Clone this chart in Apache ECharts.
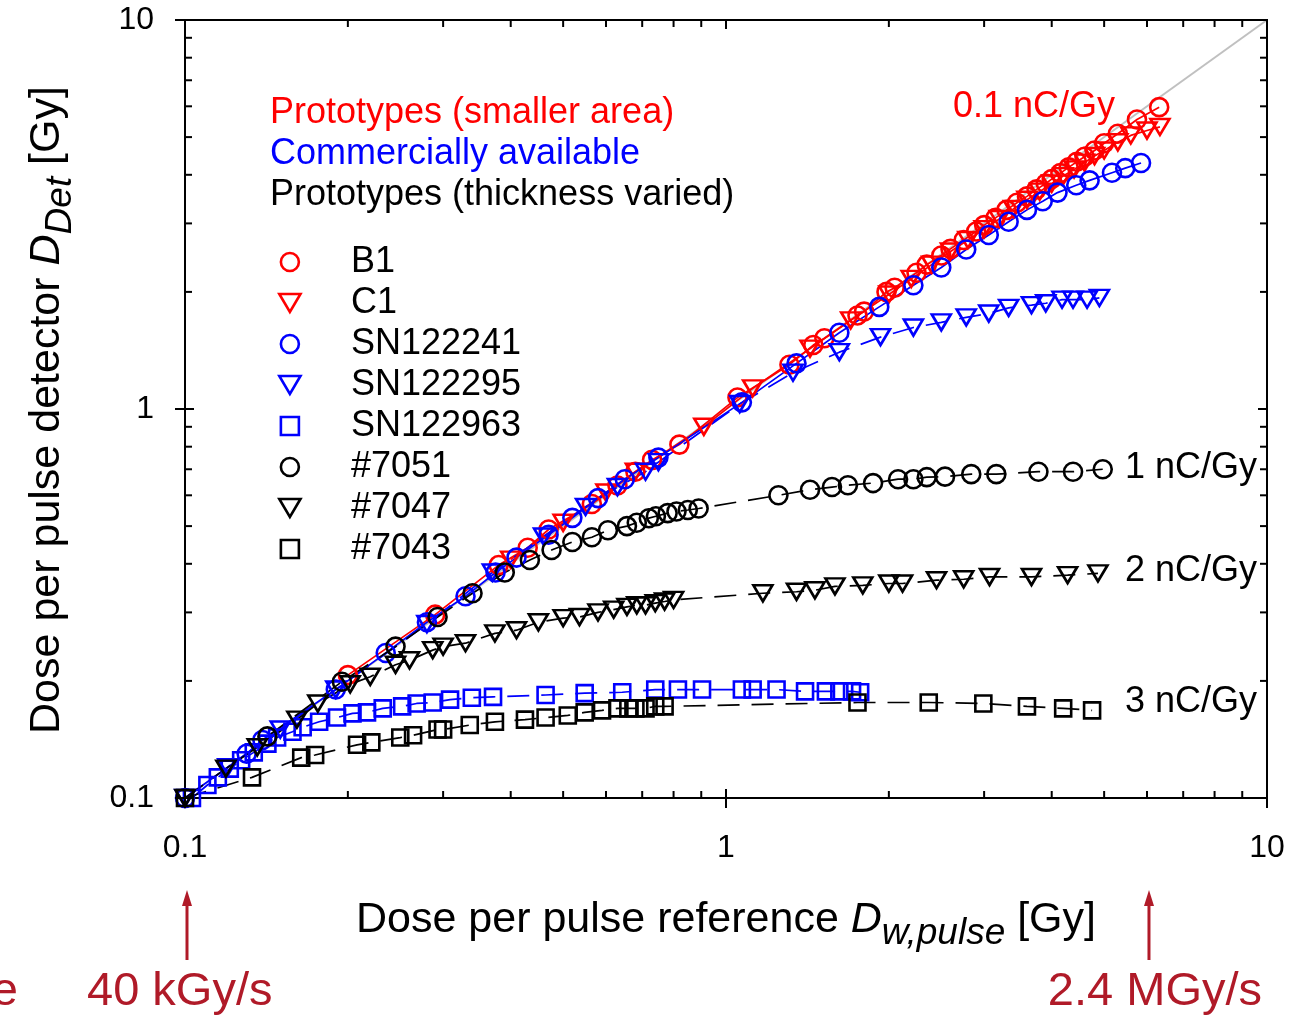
<!DOCTYPE html>
<html><head><meta charset="utf-8">
<script src="https://cdn.jsdelivr.net/npm/echarts/dist/echarts.min.js"></script>
<style>html,body{margin:0;padding:0;background:#fff}#c{width:1301px;height:1016px}</style>
</head><body><div id="c"></div>
<script>
// ---------------- data ----------------
const B1_x = [0.2,0.29,0.38,0.43,0.47,0.565,0.63,0.68,0.73,0.82,1.05,1.31,1.45,1.52,1.75,1.8,1.98,2.05,2.25,2.35,2.5,2.6,2.75,2.9,3.0,3.15,3.3,3.45,3.6,3.75,3.9,4.0,4.15,4.3,4.45,4.6,4.8,5.0,5.3,5.75,6.32];
const B1_y = [0.207,0.296,0.397,0.44,0.49,0.57,0.636,0.69,0.74,0.81,1.07,1.3,1.46,1.52,1.74,1.78,2.0,2.05,2.24,2.35,2.48,2.58,2.72,2.86,2.97,3.1,3.25,3.39,3.52,3.67,3.8,3.9,4.04,4.18,4.32,4.45,4.62,4.82,5.1,5.55,5.97];

const C1_x = [0.4,0.5,0.6,0.68,0.91,1.12,1.43,1.7,2.0,2.2,2.4,2.6,2.8,3.0,3.2,3.4,3.6,3.8,4.0,4.2,4.4,4.6,4.8,5.0,5.3,5.6,6.0,6.34];
const C1_y = [0.41,0.51,0.61,0.69,0.9,1.13,1.43,1.69,1.97,2.16,2.35,2.54,2.72,2.9,3.08,3.27,3.45,3.62,3.8,3.97,4.13,4.3,4.47,4.62,4.85,5.05,5.2,5.31];

const SN122241_x = [0.1,0.13,0.139,0.19,0.235,0.28,0.33,0.375,0.41,0.47,0.52,0.58,0.65,0.75,1.07,1.35,1.62,1.92,2.22,2.5,2.78,3.06,3.33,3.6,3.85,4.1,4.44,4.7,5.17,5.47,5.85];
const SN122241_y = [0.1,0.13,0.141,0.19,0.236,0.283,0.33,0.38,0.415,0.475,0.525,0.59,0.66,0.75,1.04,1.31,1.57,1.83,2.08,2.31,2.57,2.8,3.03,3.25,3.42,3.6,3.76,3.87,4.05,4.16,4.29];

const SN122295_x = [0.1,0.12,0.15,0.19,0.28,0.37,0.46,0.55,0.63,0.71,0.75,1.06,1.33,1.62,1.93,2.22,2.5,2.78,3.06,3.33,3.67,3.9,4.18,4.38,4.65,4.9];
const SN122295_y = [0.1,0.12,0.15,0.19,0.28,0.38,0.47,0.56,0.63,0.69,0.73,1.03,1.24,1.40,1.53,1.62,1.67,1.72,1.76,1.82,1.85,1.87,1.91,1.91,1.91,1.93];

const SN122963_x = [0.103,0.11,0.115,0.121,0.127,0.134,0.142,0.148,0.158,0.165,0.177,0.191,0.204,0.217,0.232,0.252,0.268,0.287,0.309,0.339,0.371,0.464,0.548,0.643,0.74,0.815,0.903,1.07,1.12,1.24,1.40,1.53,1.62,1.71,1.77];
const SN122963_y = [0.1,0.108,0.113,0.119,0.125,0.131,0.138,0.143,0.148,0.152,0.157,0.161,0.165,0.166,0.17,0.172,0.175,0.176,0.179,0.181,0.182,0.184,0.186,0.187,0.19,0.19,0.19,0.19,0.19,0.19,0.188,0.188,0.188,0.188,0.187];

const S7051_x = [0.142,0.195,0.245,0.293,0.34,0.39,0.434,0.476,0.52,0.565,0.605,0.656,0.684,0.72,0.742,0.78,0.81,0.85,0.89,1.25,1.43,1.57,1.68,1.87,2.08,2.22,2.35,2.54,2.84,3.16,3.78,4.38,4.97];
const S7051_y = [0.144,0.199,0.245,0.292,0.336,0.38,0.409,0.434,0.455,0.468,0.488,0.5,0.51,0.524,0.53,0.54,0.545,0.55,0.555,0.6,0.62,0.63,0.637,0.645,0.66,0.66,0.668,0.67,0.68,0.68,0.69,0.69,0.7];

const S7047_x = [0.1,0.119,0.136,0.161,0.176,0.202,0.22,0.245,0.26,0.287,0.3,0.33,0.374,0.41,0.45,0.5,0.536,0.58,0.62,0.656,0.684,0.71,0.74,0.77,0.8,1.17,1.35,1.46,1.59,1.79,2.0,2.12,2.45,2.75,3.07,3.67,4.28,4.87];
const S7047_y = [0.1,0.119,0.135,0.159,0.175,0.196,0.205,0.22,0.226,0.24,0.245,0.25,0.265,0.27,0.283,0.29,0.292,0.3,0.305,0.31,0.313,0.313,0.317,0.32,0.323,0.336,0.339,0.342,0.35,0.352,0.356,0.356,0.363,0.365,0.37,0.37,0.374,0.378];

const S7043_x = [0.1,0.133,0.164,0.174,0.208,0.221,0.25,0.264,0.293,0.3,0.336,0.374,0.425,0.464,0.51,0.548,0.59,0.63,0.66,0.68,0.71,0.74,0.77,1.75,2.37,2.99,3.6,4.2,4.75];
const S7043_y = [0.1,0.113,0.127,0.129,0.137,0.139,0.143,0.145,0.15,0.15,0.154,0.157,0.159,0.161,0.163,0.166,0.168,0.17,0.17,0.17,0.17,0.172,0.172,0.176,0.176,0.175,0.172,0.17,0.168];

const identityLine = [0.1, 10];
const majorTicks = [0.1, 1, 10];
const minorTicks = [0.2,0.3,0.4,0.5,0.6,0.7,0.8,0.9,2,3,4,5,6,7,8,9];
const groupHeaders = ['Prototypes (smaller area)', 'Commercially available', 'Prototypes (thickness varied)'];
const curveLabels = ['0.1 nC/Gy', '1 nC/Gy', '2 nC/Gy', '3 nC/Gy'];
const rateLabels = ['40 kGy/s', '2.4 MGy/s'];
const rateAt = [0.1, 6];

// ---------------- styling ----------------
const F = '"Liberation Sans", Arial, Helvetica, sans-serif';
const RED = '#ff0000', BLUE = '#0000ff', BLACK = '#000000', DARKRED = '#b01a28';
const TRI = 'path://M0,0L20,0L10,17Z';
const SQ = 'path://M0,0L10,0L10,10L0,10Z';
const zip = (xs, ys) => xs.map((x, i) => [x, ys[i]]);

const defs = [
  {name:'B1', x:B1_x, y:B1_y, color:RED, symbol:'circle', size:18, dash:'solid'},
  {name:'C1', x:C1_x, y:C1_y, color:RED, symbol:TRI, size:[19,16], dash:'solid'},
  {name:'SN122241', x:SN122241_x, y:SN122241_y, color:BLUE, symbol:'circle', size:18, dash:'solid'},
  {name:'SN122295', x:SN122295_x, y:SN122295_y, color:BLUE, symbol:TRI, size:[19,16], dash:[22,12]},
  {name:'SN122963', x:SN122963_x, y:SN122963_y, color:BLUE, symbol:SQ, size:16, dash:[22,12]},
  {name:'#7051', x:S7051_x, y:S7051_y, color:BLACK, symbol:'circle', size:18, dash:[22,12]},
  {name:'#7047', x:S7047_x, y:S7047_y, color:BLACK, symbol:TRI, size:[19,16], dash:[22,12]},
  {name:'#7043', x:S7043_x, y:S7043_y, color:BLACK, symbol:SQ, size:16, dash:[22,12]}
];

const series = [];
series.push({
  type:'line', name:'identity', data: identityLine.map(v => [v, v]), showSymbol:false, silent:true,
  lineStyle:{color:'#c0c0c0', width:2}, z:1
});
defs.forEach(d => {
  series.push({
    type:'line', name:d.name + ' line', data: zip(d.x, d.y), showSymbol:false, silent:true,
    lineStyle:{color:d.color, width:1.7, type:d.dash}, z:2
  });
});
defs.forEach(d => {
  series.push({
    type:'scatter', name:d.name, data: zip(d.x, d.y), symbol:d.symbol, symbolSize:d.size, silent:true,
    itemStyle:{color:'transparent', borderColor:d.color, borderWidth:2.6, opacity:1}, z:3
  });
});

// axis ticks through the scales (custom series)
series.push({
  type:'custom', name:'ticks', silent:true, clip:false, z:5,
  encode:{x:0, y:1},
  data: majorTicks.map(v => [v, v, 1]).concat(minorTicks.map(v => [v, v, 0])),
  renderItem: function (params, api) {
    const v = api.value(0), major = api.value(2) === 1;
    const p = api.coord([v, v]);
    const cs = params.coordSys;
    const L = cs.x, R = cs.x + cs.width, T = cs.y, B = cs.y + cs.height;
    const inLen = major ? 9 : 7, outLen = major ? 10 : 0;
    const st = {stroke:'#000', lineWidth:2};
    return {type:'group', children:[
      {type:'line', shape:{x1:p[0], y1:B + outLen, x2:p[0], y2:B - inLen}, style:st},
      {type:'line', shape:{x1:p[0], y1:T, x2:p[0], y2:T + inLen}, style:st},
      {type:'line', shape:{x1:L - outLen, y1:p[1], x2:L + inLen, y2:p[1]}, style:st},
      {type:'line', shape:{x1:R, y1:p[1], x2:R - inLen, y2:p[1]}, style:st}
    ]};
  }
});

const chart = echarts.init(document.getElementById('c'), null, {renderer:'canvas'});
const option = {
  backgroundColor:'#fff',
  animation:false,
  textStyle:{fontFamily:F},
  grid:{left:185, right:34, top:20, bottom:218, show:true, borderColor:'#000', borderWidth:2, containLabel:false, outerBoundsMode:'none'},
  xAxis:{type:'log', logBase:10, min:0.1, max:10,
    axisLine:{show:true, lineStyle:{color:'#000', width:2}},
    axisTick:{show:false}, splitLine:{show:false}, minorTick:{show:false},
    axisLabel:{fontSize:32, color:'#000', fontFamily:F, margin:34}},
  yAxis:{type:'log', logBase:10, min:0.1, max:10,
    axisLine:{show:true, lineStyle:{color:'#000', width:2}},
    axisTick:{show:false}, splitLine:{show:false}, minorTick:{show:false},
    axisLabel:{fontSize:32, color:'#000', fontFamily:F, margin:31}},
  legend:{
    data: defs.map(d => ({name:d.name, icon:d.symbol})),
    orient:'vertical', left:273, top:239, itemGap:5, padding:5,
    itemWidth:22, itemHeight:18, symbolKeepAspect:true, selectedMode:false,
    itemStyle:{color:'transparent', borderWidth:2.6},
    textStyle:{fontSize:36, color:'#000', fontFamily:F, padding:[0,0,0,45]}
  },
  series: series
};
chart.setOption(option);

const px = v => chart.convertToPixel({gridIndex:0}, [v, 1])[0];
const graphics = [];
[RED, BLUE, BLACK].forEach((c, i) => {
  graphics.push({type:'text', x:270, y:113 + 41 * i, silent:true,
    style:{text:groupHeaders[i], fill:c, font:'36px ' + F, align:'left', verticalAlign:'middle'}});
});
graphics.push({type:'text', x:1115, y:107, silent:true, style:{text:curveLabels[0], fill:RED, font:'36px ' + F, align:'right', verticalAlign:'middle'}});
[468, 571, 702].forEach((y, i) => {
  graphics.push({type:'text', x:1125, y:y, silent:true, style:{text:curveLabels[i + 1], fill:BLACK, font:'36px ' + F, align:'left', verticalAlign:'middle'}});
});
// axis titles
const titleRich = {n:{fontSize:43, fontFamily:F}, i:{fontSize:43, fontFamily:F, fontStyle:'italic'}, s:{fontSize:37, fontFamily:F, fontStyle:'italic', padding:[28,0,0,0]}};
graphics.push({type:'text', x:726, y:920, silent:true, style:{
  text:'{n|Dose per pulse reference }{i|D}{s|w,pulse}{n| [Gy]}', align:'center', verticalAlign:'middle', fill:'#000', rich:titleRich}});
graphics.push({type:'text', x:47, y:410, rotation:Math.PI / 2, silent:true, style:{
  text:'{n|Dose per pulse detector }{i|D}{s|Det}{n| [Gy]}', align:'center', verticalAlign:'middle', fill:'#000', rich:titleRich}});
// rate annotations with arrows
const arrowX = rateAt.map(v => px(v) + 2);
arrowX.forEach(x => {
  graphics.push({type:'line', silent:true, shape:{x1:x, y1:960, x2:x, y2:902}, style:{stroke:DARKRED, lineWidth:3}});
  graphics.push({type:'polygon', silent:true, shape:{points:[[x, 890], [x - 5, 906], [x + 5, 906]]}, style:{fill:DARKRED}});
});
graphics.push({type:'text', x:87, y:992, silent:true, style:{text:rateLabels[0], fill:DARKRED, font:'47px ' + F, align:'left', verticalAlign:'middle'}});
graphics.push({type:'text', x:1262, y:992, silent:true, style:{text:rateLabels[1], fill:DARKRED, font:'47px ' + F, align:'right', verticalAlign:'middle'}});
graphics.push({type:'text', x:18, y:992, silent:true, style:{text:'e', fill:DARKRED, font:'47px ' + F, align:'right', verticalAlign:'middle'}});
chart.setOption({graphic:graphics});
</script>
</body></html>
